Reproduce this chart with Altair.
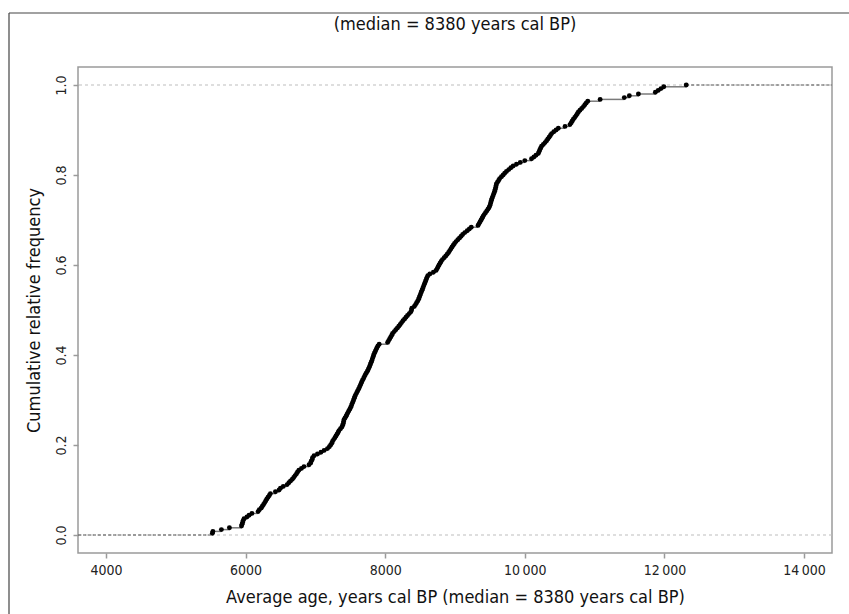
import altair as alt
import pandas as pd

# Average ages (years cal BP) of the dated samples, in ascending order
ages = [
    5525, 5532, 5654, 5769, 5942, 5950, 5958, 5966, 5978, 6019,
    6050, 6091, 6180, 6197, 6225, 6240, 6258, 6275, 6290, 6305,
    6322, 6340, 6356, 6428, 6480, 6500, 6540, 6596, 6620, 6644,
    6670, 6690, 6710, 6730, 6745, 6764, 6800, 6837, 6909, 6933,
    6940, 6955, 6960, 6981, 7030, 7080, 7125, 7173, 7200, 7219,
    7235, 7245, 7262, 7280, 7295, 7310, 7325, 7338, 7360, 7380,
    7390, 7400, 7405, 7410, 7425, 7440, 7452, 7466, 7480, 7495,
    7506, 7517, 7527, 7538, 7548, 7557, 7566, 7578, 7592, 7605,
    7618, 7630, 7642, 7653, 7664, 7675, 7690, 7702, 7715, 7730,
    7745, 7757, 7770, 7780, 7790, 7800, 7810, 7818, 7828, 7836,
    7845, 7858, 7870, 7882, 7896, 7914, 8035, 8050, 8065, 8080,
    8094, 8106, 8130, 8152, 8175, 8195, 8215, 8235, 8255, 8278,
    8298, 8320, 8345, 8368, 8378, 8382, 8417, 8435, 8450, 8466,
    8478, 8488, 8498, 8508, 8518, 8528, 8538, 8548, 8558, 8568,
    8578, 8588, 8598, 8610, 8640, 8690, 8729, 8745, 8758, 8772,
    8786, 8801, 8820, 8845, 8868, 8888, 8908, 8925, 8942, 8958,
    8975, 8993, 9015, 9040, 9065, 9088, 9110, 9140, 9175, 9205,
    9233, 9330, 9345, 9360, 9375, 9388, 9401, 9418, 9437, 9455,
    9472, 9488, 9500, 9508, 9515, 9521, 9530, 9540, 9550, 9560,
    9568, 9576, 9583, 9588, 9593, 9608, 9625, 9640, 9665, 9690,
    9712, 9737, 9770, 9800, 9833, 9880, 9935, 10000, 10096, 10130,
    10160, 10193, 10205, 10215, 10228, 10240, 10265, 10290, 10312, 10330,
    10348, 10366, 10384, 10415, 10448, 10480, 10576, 10647, 10665, 10680,
    10695, 10715, 10735, 10752, 10768, 10790, 10815, 10840, 10860, 10880,
    10902, 11079, 11425, 11497, 11627, 11870, 11910, 11950, 11991, 12312,
]

x_domain = [3600, 14400]
y_domain = [-0.04, 1.04]
x_ticks = [4000, 6000, 8000, 10000, 12000, 14000]
y_ticks = [0.0, 0.2, 0.4, 0.6, 0.8, 1.0]

title_text = "(median = 8380 years cal BP)"
x_title = "Average age, years cal BP (median = 8380 years cal BP)"
y_title = "Cumulative relative frequency"

FONT = "DejaVu Sans Condensed, Liberation Sans Narrow, sans-serif"
PLOT_W, PLOT_H = 754, 486

# Empirical cumulative distribution: one step per sample
n = len(ages)
ecdf = pd.DataFrame({"age": sorted(ages)})
ecdf["frac"] = (ecdf.index + 1) / n
ecdf["next_age"] = ecdf["age"].shift(-1)
steps = ecdf.dropna()

# Flat parts of the step function beyond the first and last samples
tails = pd.DataFrame({
    "age": [x_domain[0], ecdf["age"].iloc[-1]],
    "next_age": [ecdf["age"].iloc[0], x_domain[1]],
    "frac": [0.0, 1.0],
})
limits = pd.DataFrame({"frac": [0.0, 1.0]})
one_row = pd.DataFrame({"label": [title_text]})

x_scale = alt.Scale(domain=x_domain, nice=False, zero=False)
y_scale = alt.Scale(domain=y_domain, nice=False, zero=False)

x_axis = alt.Axis(
    values=x_ticks, title=x_title, domain=False, grid=False,
    tickColor="#9a9a9a", tickWidth=1.5, tickSize=5,
    labelPadding=5, labelFontSize=14, labelColor="#222", labelFont=FONT,
    labelExpr="datum.value >= 10000 ? replace(format(datum.value, ','), ',', '\u2009') : format(datum.value, 'd')",
    titleFont=FONT, titleFontSize=18, titleFontWeight="normal",
    titleColor="#111", titlePadding=11,
)
y_axis = alt.Axis(
    values=y_ticks, title=y_title, domain=False, grid=False, format=".1f",
    tickColor="#9a9a9a", tickWidth=1.5, tickSize=5,
    labelPadding=5, labelFontSize=14, labelColor="#222", labelFont=FONT,
    labelAngle=270, labelAlign="center", labelBaseline="bottom",
    titleFont=FONT, titleFontSize=18, titleFontWeight="normal",
    titleColor="#111", titlePadding=11,
)

X = alt.X("age:Q", scale=x_scale, axis=x_axis)
X2 = alt.X2("next_age:Q")
Y = alt.Y("frac:Q", scale=y_scale, axis=y_axis)

limit_lines = alt.Chart(limits).mark_rule(
    color="#bdbdbd", strokeDash=[3, 3], strokeWidth=1
).encode(y=Y)

tail_lines = alt.Chart(tails).mark_rule(
    color="#555", strokeDash=[3, 2], strokeWidth=1
).encode(x=X, x2=X2, y=Y)

step_lines = alt.Chart(steps).mark_rule(
    color="#7a7a7a", strokeWidth=1.5
).encode(x=X, x2=X2, y=Y)

points = alt.Chart(ecdf).mark_circle(
    color="#000", opacity=1, size=24
).encode(x=X, y=Y)

# Figure border (left and top edges)
frame_left = alt.Chart(one_row).mark_rule(color="#444", strokeWidth=1.2).encode(
    x=alt.value(-69), y=alt.value(-54), y2=alt.value(PLOT_H + 80)
)
frame_top = alt.Chart(one_row).mark_rule(color="#444", strokeWidth=1.2).encode(
    x=alt.value(-69), x2=alt.value(PLOT_W + 40), y=alt.value(-54)
)

# Heading above the plot
heading = alt.Chart(one_row).mark_text(
    font=FONT, fontSize=18, color="#111", align="center", baseline="middle"
).encode(
    x=alt.value(PLOT_W / 2), y=alt.value(-42), text="label:N"
)

chart = alt.layer(
    frame_left, frame_top, heading, limit_lines, tail_lines, step_lines, points
).properties(
    width=PLOT_W,
    height=PLOT_H,
    autosize=alt.AutoSizeParams(type="none"),
    padding={"left": 78, "top": 67, "right": 17, "bottom": 61},
    background="white",
).configure_view(
    stroke="#9a9a9a", strokeWidth=1.5
)

chart.save("out.html", embed_options={"renderer": "svg", "actions": False})
